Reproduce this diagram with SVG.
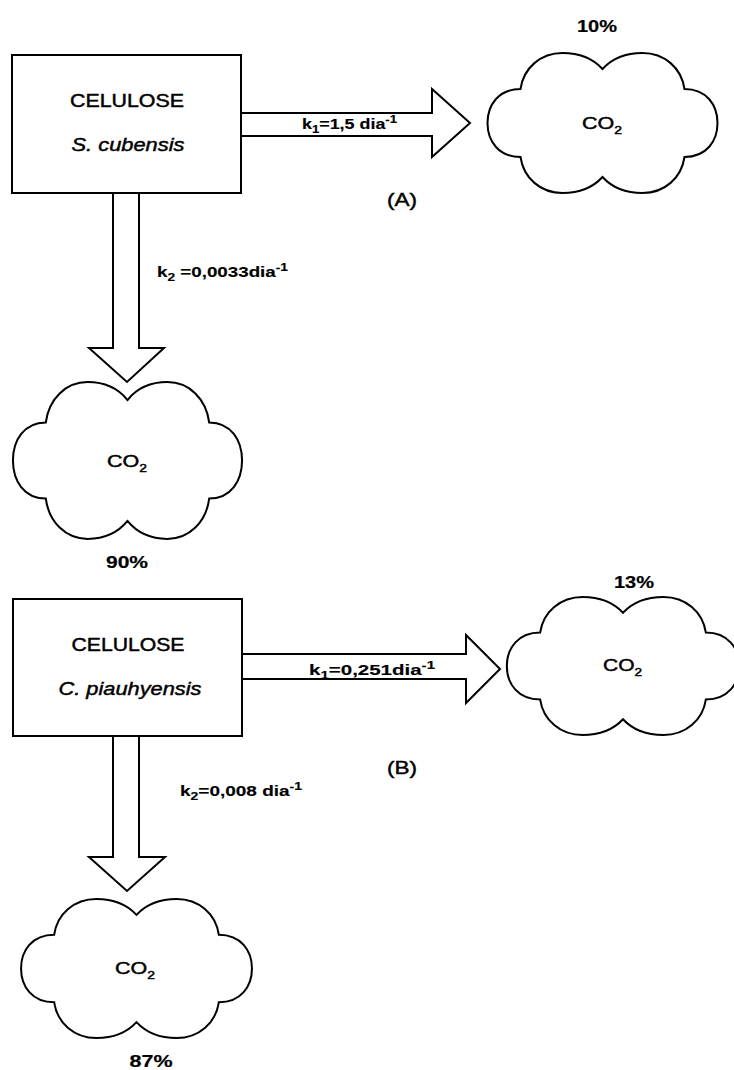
<svg xmlns="http://www.w3.org/2000/svg" width="734" height="1070" viewBox="0 0 734 1070">
<style>
.box{fill:#fff;stroke:#000;stroke-width:2}
.arr{fill:#fff;stroke:#000;stroke-width:2;stroke-linejoin:miter}
.cloud{fill:#fff;stroke:#000;stroke-width:2}
text{font-family:"Liberation Sans",Arial,sans-serif;fill:#000;stroke:#000;stroke-width:0.45}
.t{font-size:18px}
.it{font-size:18px;font-style:italic}
.pct{font-size:17px;font-weight:bold;stroke-width:0.2}
.co{font-size:17px}
.lab{font-size:19px}
.k{font-size:15px;font-weight:bold;stroke-width:0.15}
.sub{font-size:11px}
</style>
<defs>
<path id="cl" d="M 0 -54 C 10 -65 24 -70 40 -70 C 62 -70 79 -55 82 -34 C 104 -34 115 -18 115 0 C 115 18 104 34 82 34 C 79 55 62 70 40 70 C 24 70 10 65 0 54 C -10 65 -24 70 -40 70 C -62 70 -79 55 -82 34 C -104 34 -115 18 -115 0 C -115 -18 -104 -34 -82 -34 C -79 -55 -62 -70 -40 -70 C -24 -70 -10 -65 0 -54 Z"/>
</defs>

<g id="boxA">
<rect class="box" x="12" y="55" width="229" height="138"/>
<text class="t" x="127" y="107" text-anchor="middle" textLength="114" lengthAdjust="spacingAndGlyphs">CELULOSE</text>
<text class="it" x="128" y="151" text-anchor="middle" textLength="113" lengthAdjust="spacingAndGlyphs">S. cubensis</text>
</g>

<g id="boxB">
<rect class="box" x="13" y="599" width="229" height="137"/>
<text class="t" x="128" y="651" text-anchor="middle" textLength="113" lengthAdjust="spacingAndGlyphs">CELULOSE</text>
<text class="it" x="130" y="695" text-anchor="middle" textLength="143" lengthAdjust="spacingAndGlyphs">C. piauhyensis</text>
</g>

<g id="connectors">
<path class="arr" d="M 242 113 L 432 113 L 432 89 L 470 123 L 432 157 L 432 136 L 242 136"/>
<path class="arr" d="M 113 194 L 113 348 L 89 348 L 127 382 L 164 348 L 139 348 L 139 194"/>
<path class="arr" d="M 243 654 L 466 654 L 466 635 L 500 669 L 466 703 L 466 679 L 243 679"/>
<path class="arr" d="M 113 737 L 113 857 L 89 857 L 127 891 L 165 857 L 139 857 L 139 737"/>
<text class="k" x="302" y="129" textLength="95" lengthAdjust="spacingAndGlyphs">k<tspan class="sub" dy="4">1</tspan><tspan dy="-4">=1,5 dia</tspan><tspan class="sub" dy="-6">-1</tspan></text>
<text class="k" x="157" y="277" textLength="131" lengthAdjust="spacingAndGlyphs">k<tspan class="sub" dy="4">2</tspan><tspan dy="-4"> =0,0033dia</tspan><tspan class="sub" dy="-6">-1</tspan></text>
<text class="k" x="309" y="675" textLength="126" lengthAdjust="spacingAndGlyphs">k<tspan class="sub" dy="4">1</tspan><tspan dy="-4">=0,251dia</tspan><tspan class="sub" dy="-6">-1</tspan></text>
<text class="k" x="180" y="796" textLength="122" lengthAdjust="spacingAndGlyphs">k<tspan class="sub" dy="4">2</tspan><tspan dy="-4">=0,008 dia</tspan><tspan class="sub" dy="-6">-1</tspan></text>
</g>

<g id="cloudA1">
<use href="#cl" class="cloud" transform="translate(602.5 123)"/>
<text class="co" x="582" y="129" textLength="40" lengthAdjust="spacingAndGlyphs">CO<tspan class="sub" dy="5">2</tspan></text>
<text class="pct" x="597" y="32" text-anchor="middle" textLength="40" lengthAdjust="spacingAndGlyphs">10%</text>
</g>

<g id="cloudA2">
<path class="cloud" vector-effect="non-scaling-stroke" transform="translate(127.5 460.5) scale(0.996 1.12)" d="M 0 -54 C 10 -65 24 -70 40 -70 C 62 -70 79 -55 82 -34 C 104 -34 115 -18 115 0 C 115 18 104 34 82 34 C 79 55 62 70 40 70 C 24 70 10 65 0 54 C -10 65 -24 70 -40 70 C -62 70 -79 55 -82 34 C -104 34 -115 18 -115 0 C -115 -18 -104 -34 -82 -34 C -79 -55 -62 -70 -40 -70 C -24 -70 -10 -65 0 -54 Z"/>
<text class="co" x="107" y="467" textLength="40" lengthAdjust="spacingAndGlyphs">CO<tspan class="sub" dy="5">2</tspan></text>
<text class="pct" x="127" y="568" text-anchor="middle" textLength="42" lengthAdjust="spacingAndGlyphs">90%</text>
</g>

<g id="cloudB1">
<path class="cloud" vector-effect="non-scaling-stroke" transform="translate(623 666) scale(1.01 0.986)" d="M 0 -54 C 10 -65 24 -70 40 -70 C 62 -70 79 -55 82 -34 C 104 -34 115 -18 115 0 C 115 18 104 34 82 34 C 79 55 62 70 40 70 C 24 70 10 65 0 54 C -10 65 -24 70 -40 70 C -62 70 -79 55 -82 34 C -104 34 -115 18 -115 0 C -115 -18 -104 -34 -82 -34 C -79 -55 -62 -70 -40 -70 C -24 -70 -10 -65 0 -54 Z"/>
<text class="co" x="603" y="671" textLength="39" lengthAdjust="spacingAndGlyphs">CO<tspan class="sub" dy="5">2</tspan></text>
<text class="pct" x="634" y="588" text-anchor="middle" textLength="40" lengthAdjust="spacingAndGlyphs">13%</text>
</g>

<g id="cloudB2">
<path class="cloud" vector-effect="non-scaling-stroke" transform="translate(136.5 968.5) scale(1.004 0.993)" d="M 0 -54 C 10 -65 24 -70 40 -70 C 62 -70 79 -55 82 -34 C 104 -34 115 -18 115 0 C 115 18 104 34 82 34 C 79 55 62 70 40 70 C 24 70 10 65 0 54 C -10 65 -24 70 -40 70 C -62 70 -79 55 -82 34 C -104 34 -115 18 -115 0 C -115 -18 -104 -34 -82 -34 C -79 -55 -62 -70 -40 -70 C -24 -70 -10 -65 0 -54 Z"/>
<text class="co" x="115" y="974" textLength="40" lengthAdjust="spacingAndGlyphs">CO<tspan class="sub" dy="5">2</tspan></text>
<text class="pct" x="151" y="1067" text-anchor="middle" textLength="43" lengthAdjust="spacingAndGlyphs">87%</text>
</g>

<g id="labels">
<text class="lab" x="402" y="206" text-anchor="middle" textLength="30" lengthAdjust="spacingAndGlyphs">(A)</text>
<text class="lab" x="402" y="774" text-anchor="middle" textLength="30" lengthAdjust="spacingAndGlyphs">(B)</text>
</g>
</svg>
